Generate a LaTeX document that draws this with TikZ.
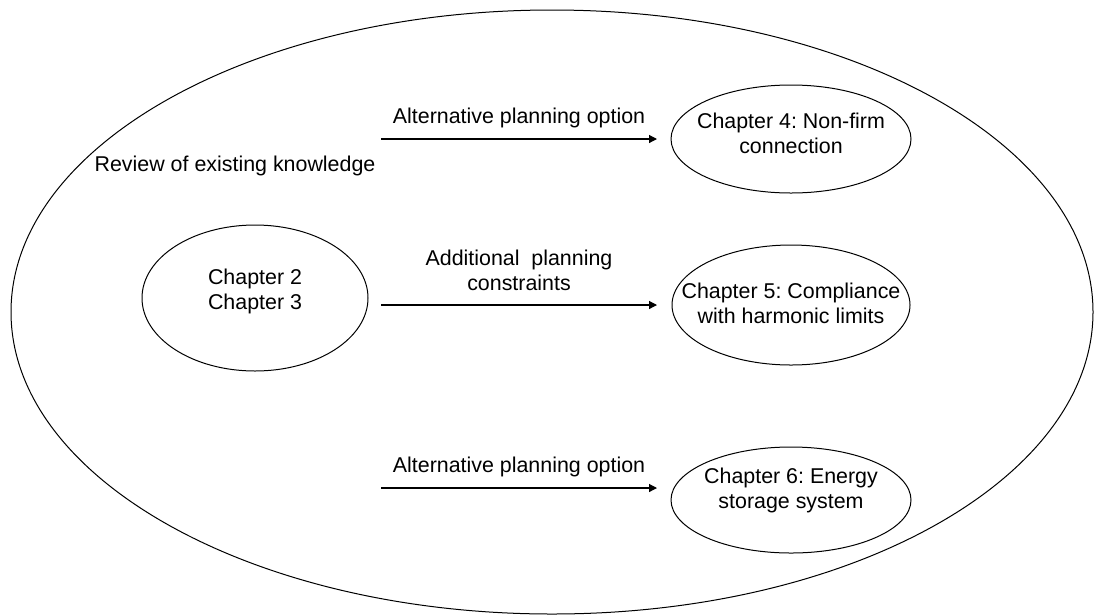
\documentclass[tikz,border=0pt]{standalone}
\usepackage{fontspec}
\setmainfont{Liberation Sans}
\frenchspacing
\usetikzlibrary{shapes.geometric,arrows.meta}
\tikzset{
  outerell/.style={draw, ellipse, line width=1pt, inner sep=0pt},
  chap/.style={draw, ellipse, line width=1pt, inner sep=0pt},
  chaptext/.style={align=center, inner sep=0pt, font=\fontsize{21.4}{25}\selectfont},
  lbl/.style={align=center, inner sep=0pt, font=\fontsize{21.4}{25}\selectfont},
  arr/.style={line width=1.2pt, -{Triangle[length=8pt,width=8pt]}}
}
\begin{document}
\begin{tikzpicture}[x=1pt,y=-1pt]
\useasboundingbox (0,0) rectangle (1094,614);
\node[outerell, minimum width=1082pt, minimum height=604pt] (outer) at (552,312) {};
\node[lbl] (review) at (235,166) {Review of existing knowledge};
% inner ellipses
\node[chap, minimum width=226pt, minimum height=146pt] (c23) at (255,298) {};
\node[chaptext] (c23t) at ([yshift=7pt]c23.center) {Chapter 2\\Chapter 3};
\node[chap, minimum width=240pt, minimum height=108pt] (c4) at (791,139) {};
\node[chaptext] (c4t) at ([yshift=6pt]c4.center) {Chapter 4: Non-firm\\connection};
\node[chap, minimum width=238pt, minimum height=120pt] (c5) at (791,305) {};
\node[chaptext] (c5t) at ([yshift=2pt]c5.center) {Chapter 5: Compliance\\with harmonic limits};
\node[chap, minimum width=240pt, minimum height=106pt] (c6) at (791,500) {};
\node[chaptext] (c6t) at ([yshift=10pt]c6.center) {Chapter 6: Energy\\storage system};
% arrows
\coordinate (a1s) at (381,139);
\coordinate (a1e) at (657,139);
\coordinate (a2s) at (381,305);
\coordinate (a2e) at (657,305);
\coordinate (a3s) at (381,488);
\coordinate (a3e) at (657,488);
\draw[arr] (a1s) -- (a1e);
\draw[arr] (a2s) -- (a2e);
\draw[arr] (a3s) -- (a3e);
\node[lbl] (l1) at (519,118) {Alternative planning option};
\node[lbl] (l2) at (519,270) {Additional\ \ planning\\constraints};
\node[lbl] (l3) at (519,467) {Alternative planning option};
\end{tikzpicture}
\end{document}
